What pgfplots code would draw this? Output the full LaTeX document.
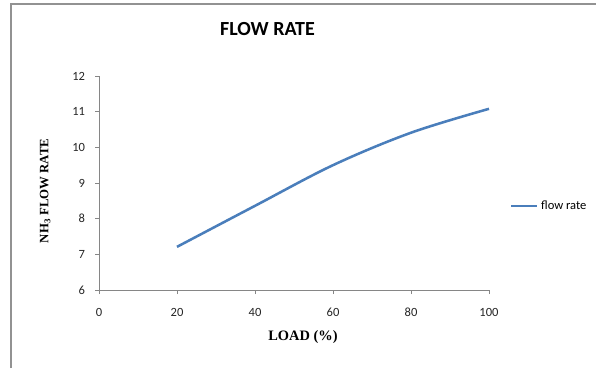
\documentclass[border=0pt]{standalone}
\usepackage{pgfplots}
\pgfplotsset{compat=1.18}
\usepackage{fontspec}
\setmainfont{Carlito}
\newfontfamily\timesfont{Liberation Serif}
\definecolor{excelblue}{HTML}{4A7EBB}
\definecolor{axgray}{HTML}{868686}
\begin{document}
\begin{tikzpicture}
\useasboundingbox (0,0) rectangle (447pt,276pt);
\fill[white] (0,0) rectangle (447pt,276pt);
\draw[color=axgray!90, line width=0.8pt] (8.25pt,0) -- (8.25pt,273pt) -- (447pt,273pt);
\begin{axis}[
  at={(74.25pt,58.5pt)}, anchor=south west,
  scale only axis, width=292.5pt, height=160.5pt,
  xmin=0, xmax=100, ymin=6, ymax=12,
  xtick={0,20,...,100}, ytick={6,7,...,12},
  axis lines*=left,
  axis line style={draw=axgray, line width=0.6pt, -},
  tick style={draw=axgray, line width=0.6pt},
  tick align=outside,
  major tick length=3pt,
  /pgf/number format/assume math mode=true,
  ticklabel style={font=\fontsize{9.4}{11}\selectfont, text=black!85},
  xticklabel style={yshift=-7pt},
  yticklabel style={xshift=-4pt},
  title={FLOW RATE},
  title style={at={(axis description cs:0.432,1.224)}, anchor=center, yshift=-7pt, font=\fontsize{15}{17}\selectfont\bfseries},
  xlabel={LOAD (\%)},
  xlabel style={at={(axis description cs:0.523,-0.22)}, anchor=center, font=\timesfont\fontsize{10.8}{13}\selectfont\bfseries},
  ylabel={NH\textsubscript{3} FLOW RATE},
  ylabel style={at={(axis description cs:-0.138,0.463)}, anchor=center, font=\timesfont\fontsize{9.6}{12}\selectfont\bfseries},
  legend style={at={(axis description cs:1.054,0.393)}, anchor=west, draw=none, fill=none,
    font=\fontsize{9.4}{11}\selectfont, inner sep=0pt, row sep=0pt},
  legend cell align=left,
  legend image code/.code={\draw[#1, line width=1.6pt] (0pt,0pt) -- (19.5pt,0pt);},
  clip=false,
]
\addplot[color=excelblue, line width=1.9pt, smooth, tension=0.55] coordinates {
  (20,7.21) (40,8.36) (60,9.50) (80,10.41) (100,11.08)
};
\addlegendentry{flow rate}
\end{axis}
\end{tikzpicture}
\end{document}
